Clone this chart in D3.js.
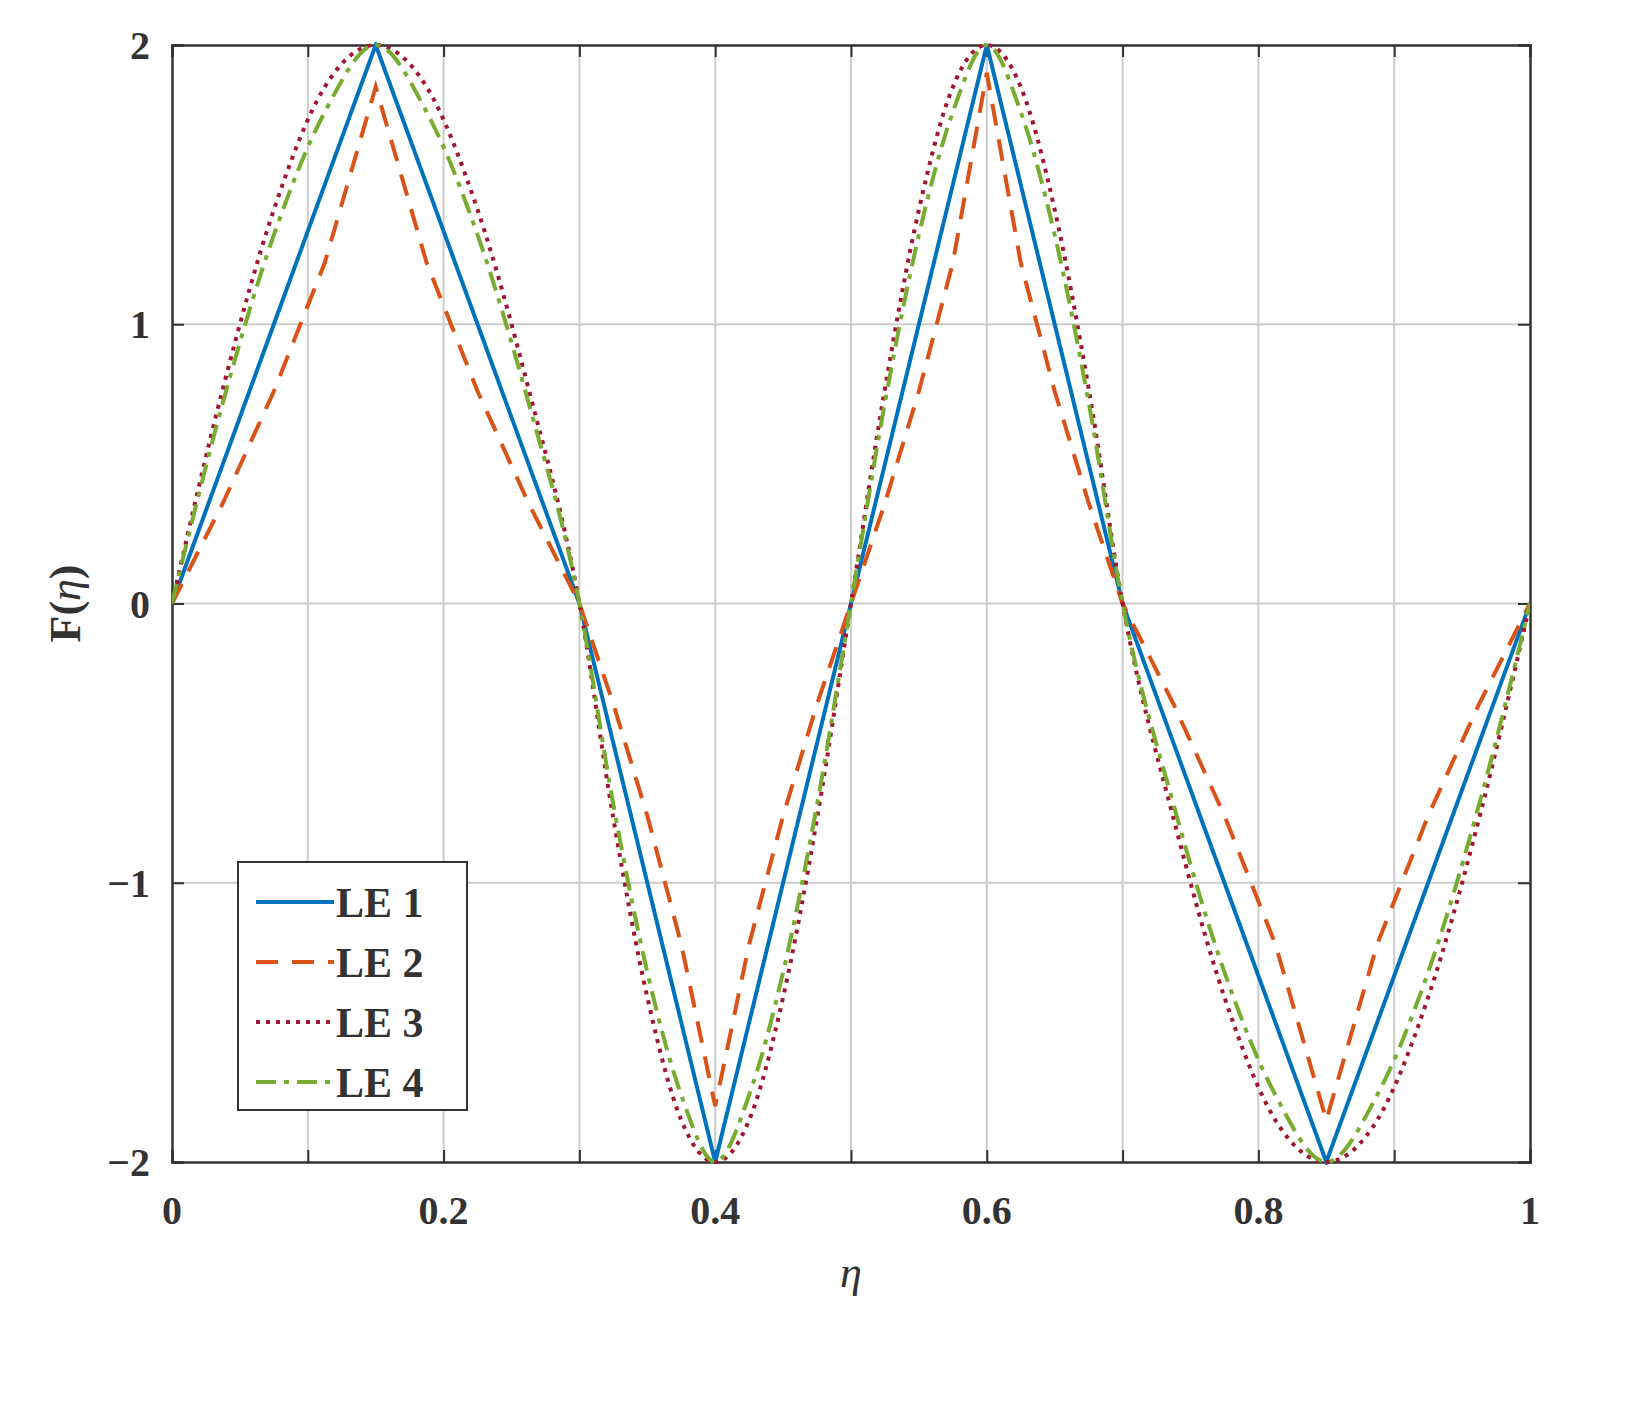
<!DOCTYPE html>
<html><head><meta charset="utf-8">
<script src="https://cdn.jsdelivr.net/npm/d3@7"></script>
<style>body{margin:0;background:#fff}</style></head>
<body><svg id="c" width="1647" height="1409"></svg>
<script>
const xs=[0,.0375,.075,.1125,.15,.1875,.225,.2625,.3,.325,.35,.375,.4,.425,.45,.475,.5,.525,.55,.575,.6,.625,.65,.675,.7,.7375,.775,.8125,.85,.8875,.925,.9625,1];
const LE1=[0,.5,1,1.5,2,1.5,1,.5,0,-.5,-1,-1.5,-2,-1.5,-1,-.5,0,.5,1,1.5,2,1.5,1,.5,0,-.5,-1,-1.5,-2,-1.5,-1,-.5,0];
const LE2=[0,.36,.76,1.22,1.85,1.22,.76,.36,0,-.36,-.76,-1.22,-1.8,-1.22,-.76,-.36,0,.36,.76,1.22,1.9,1.22,.76,.36,0,-.36,-.76,-1.22,-1.85,-1.22,-.76,-.36,0];
const LE3=[0,.77,1.41,1.85,2,1.85,1.41,.77,0,-.77,-1.41,-1.85,-2,-1.85,-1.41,-.77,0,.77,1.41,1.85,2,1.85,1.41,.77,0,-.77,-1.41,-1.85,-2,-1.85,-1.41,-.77,0];
const LE4=[0,.72,1.32,1.76,2,1.76,1.32,.72,0,-.72,-1.32,-1.76,-2,-1.76,-1.32,-.72,0,.72,1.32,1.76,2,1.76,1.32,.72,0,-.72,-1.32,-1.76,-2,-1.76,-1.32,-.72,0];
const xTicks=[0,0.2,0.4,0.6,0.8,1], xTickLabels=["0","0.2","0.4","0.6","0.8","1"];
const yTicks=[-2,-1,0,1,2], yTickLabels=["\u22122","\u22121","0","1","2"];
const names=["LE 1","LE 2","LE 3","LE 4"];

const svg=d3.select("#c");
const L=172,R=1530,T=45,B=1162;
const x=d3.scaleLinear().domain([0,1]).range([L,R]);
const y=d3.scaleLinear().domain([-2,2]).range([B,T]);
const font="'Liberation Serif','Times New Roman',serif";
const g=svg.append("g");
g.selectAll(".gx").data(d3.range(1,10).map(i=>i/10)).join("line").attr("x1",d=>x(d)).attr("x2",d=>x(d)).attr("y1",T).attr("y2",B).attr("stroke","#ccc").attr("stroke-width",2);
g.selectAll(".gy").data([-1,0,1]).join("line").attr("x1",L).attr("x2",R).attr("y1",d=>y(d)).attr("y2",d=>y(d)).attr("stroke","#ccc").attr("stroke-width",2);
svg.append("g").attr("transform",`translate(0,${B})`).call(d3.axisBottom(x).tickValues(d3.range(0,11).map(i=>i/10)).tickSize(-12).tickFormat(""));
svg.append("g").attr("transform",`translate(0,${T})`).call(d3.axisTop(x).tickValues(d3.range(0,11).map(i=>i/10)).tickSize(-12).tickFormat(""));
svg.append("g").attr("transform",`translate(${L},0)`).call(d3.axisLeft(y).tickValues(yTicks).tickSize(-12).tickFormat(""));
svg.append("g").attr("transform",`translate(${R},0)`).call(d3.axisRight(y).tickValues(yTicks).tickSize(-12).tickFormat(""));
svg.selectAll(".domain").attr("stroke","#333").attr("stroke-width",2.5);
svg.selectAll(".tick line").attr("stroke","#333").attr("stroke-width",2);
svg.selectAll(".xl").data(xTicks).join("text").attr("x",d=>x(d)).attr("y",B+62).attr("text-anchor","middle")
 .attr("font-family",font).attr("font-weight","bold").attr("font-size",40).attr("fill","#333").text((d,i)=>xTickLabels[i]);
svg.selectAll(".yl").data(yTicks).join("text").attr("x",L-22).attr("y",d=>y(d)+14).attr("text-anchor","end")
 .attr("font-family",font).attr("font-weight","bold").attr("font-size",40).attr("fill","#333").text((d,i)=>yTickLabels[i]);
svg.append("text").attr("x",(L+R)/2).attr("y",B+125).attr("text-anchor","middle").attr("font-family",font).attr("font-style","italic").attr("font-size",44).attr("fill","#333").text("η");
const yt=svg.append("text").attr("transform",`translate(80,${(T+B)/2}) rotate(-90)`).attr("text-anchor","middle").attr("font-family",font).attr("font-weight","bold").attr("font-size",44).attr("fill","#333");
yt.append("tspan").text("F(");yt.append("tspan").attr("font-style","italic").attr("font-weight","normal").text("η");yt.append("tspan").text(")");
const series=[
 {v:LE1,c:"#0072BD",d:null,curve:d3.curveLinear},
 {v:LE2,c:"#D95319",d:"22,14",curve:d3.curveLinear},
 {v:LE3,c:"#A2142F",d:"4,6",curve:d3.curveMonotoneX},
 {v:LE4,c:"#77AC30",d:"20,8,5,8",curve:d3.curveMonotoneX}];
svg.append("clipPath").attr("id","cp").append("rect").attr("x",L).attr("y",T-3).attr("width",R-L).attr("height",B-T+6);
series.forEach(s=>{
 const line=d3.line().x((d,i)=>x(xs[i])).y(d=>y(d)).curve(s.curve);
 svg.append("path").attr("d",line(s.v)).attr("fill","none").attr("stroke",s.c).attr("stroke-width",4).attr("stroke-dasharray",s.d).attr("clip-path","url(#cp)");
});
const lg=svg.append("g");
lg.append("rect").attr("x",238).attr("y",862).attr("width",229).attr("height",248).attr("fill","#fff").attr("stroke","#333").attr("stroke-width",2);
series.forEach((s,i)=>{
 const yy=902+i*60;
 lg.append("line").attr("x1",256).attr("x2",334).attr("y1",yy).attr("y2",yy).attr("stroke",s.c).attr("stroke-width",4).attr("stroke-dasharray",s.d);
 lg.append("text").attr("x",336).attr("y",yy+15).attr("font-family",font).attr("font-weight","bold").attr("font-size",42).attr("fill","#333").text(names[i]);
});
</script></body></html>
